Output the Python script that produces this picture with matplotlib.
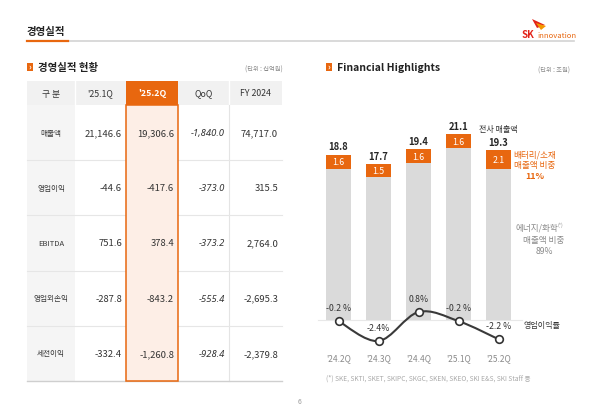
import matplotlib

matplotlib.use("Agg")
import matplotlib.pyplot as plt
import numpy as np
from matplotlib.patches import Rectangle, Polygon
from matplotlib.path import Path
from matplotlib.patches import PathPatch

plt.rcParams["font.family"] = ["Noto Sans CJK KR", "DejaVu Sans"]
plt.rcParams["axes.unicode_minus"] = False

ORANGE = "#e8670f"
DARK = "#333333"

# table data (unit: 십억원)
table_cols = ["구 분", "'25.1Q", "'25.2Q", "QoQ", "FY 2024"]
row_labels = ["매출액", "영업이익", "EBITDA", "영업외손익", "세전이익"]
q1_values = [21146.6, -44.6, 751.6, -287.8, -332.4]
q2_values = [19306.6, -417.6, 378.4, -843.2, -1260.8]
qoq_values = [-1840.0, -373.0, -373.2, -555.4, -928.4]
fy_values = [74717.0, 315.5, 2764.0, -2695.3, -2379.8]

# chart data (unit: 조원)
quarters = ["'24.2Q", "'24.3Q", "'24.4Q", "'25.1Q", "'25.2Q"]
total_sales = [18.8, 17.7, 19.4, 21.1, 19.3]
battery_sales = [1.6, 1.5, 1.6, 1.6, 2.1]
op_margin = [-0.2, -2.4, 0.8, -0.2, -2.2]
margin_labels = ["-0.2 %", "-2.4%", "0.8%", "-0.2 %", "-2.2 %"]

W, H = 600, 414
fig = plt.figure(figsize=(W / 100, H / 100), dpi=100)
canvas = fig.add_axes([0, 0, 1, 1])
canvas.set_xlim(0, W)
canvas.set_ylim(H, 0)
canvas.axis("off")

# page header
canvas.text(27, 32, "경영실적", fontsize=7.5, fontweight="bold", va="center", color="#222222")
canvas.plot([27, 574], [42, 42], color="#d3d3d3", lw=1.2)
canvas.plot([27, 68], [42, 42], color=ORANGE, lw=1.6)
canvas.add_patch(Polygon([(532, 20), (545, 26), (537, 29)], color="#e2231a", lw=0))
canvas.add_patch(Polygon([(536, 24), (546, 27), (541, 31)], color="#f39800", lw=0))
canvas.text(522, 35, "SK", color="#e2231a", fontweight="bold", fontsize=7, va="center")
canvas.text(537, 35.5, "innovation", color=ORANGE, fontsize=5.5, va="center")


def section_icon(x, y):
    canvas.add_patch(Rectangle((x, y - 4), 6, 8, color=ORANGE, lw=0))
    canvas.text(x + 3, y - 0.5, "›", color="white", fontsize=6, fontweight="bold", ha="center", va="center")


section_icon(27, 68)
canvas.text(38, 68, "경영실적 현황", fontsize=7.5, fontweight="bold", va="center", color="#222222")
canvas.text(283, 70, "(단위 : 십억원)", fontsize=4.5, color="#8a8a8a", ha="right", va="center")
section_icon(326, 68)
canvas.text(337, 68, "Financial Highlights", fontsize=7.5, fontweight="bold", va="center", color="#222222")
canvas.text(570, 71, "(단위 : 조원)", fontsize=4.5, color="#8a8a8a", ha="right", va="center")

# table
col_edges = [27, 75, 126, 178, 229, 282]
head_top, head_bot = 82, 106
row_h = 55.2
table_bot = head_bot + row_h * len(row_labels)

canvas.add_patch(Rectangle((col_edges[0], head_top), col_edges[-1] - col_edges[0], head_bot - head_top,
                           color="#f1f1f1", lw=0))
canvas.add_patch(Rectangle((col_edges[0], head_bot), col_edges[1] - col_edges[0], table_bot - head_bot,
                           color="#f5f5f5", lw=0))
canvas.add_patch(Rectangle((col_edges[2], head_top), col_edges[3] - col_edges[2], head_bot - head_top,
                           color=ORANGE, lw=0))
for xe in [col_edges[1], col_edges[4]]:
    canvas.plot([xe, xe], [head_top, head_bot], color="white", lw=1)
canvas.plot([col_edges[4], col_edges[4]], [head_bot, table_bot], color="#e4e4e4", lw=0.8)
for i in range(1, len(row_labels)):
    yy = head_bot + row_h * i
    canvas.plot([col_edges[0], col_edges[-1]], [yy, yy], color="#e6e6e6", lw=0.8)
canvas.plot([col_edges[0], col_edges[-1]], [table_bot, table_bot], color="#cfcfcf", lw=1)
canvas.add_patch(Rectangle((col_edges[2], head_bot), col_edges[3] - col_edges[2], table_bot - head_bot,
                           facecolor="#fdeee6", edgecolor=ORANGE, lw=1.1, zorder=3))

for j, name in enumerate(table_cols):
    xc = (col_edges[j] + col_edges[j + 1]) / 2
    canvas.text(xc, (head_top + head_bot) / 2, name, ha="center", va="center", fontsize=6.3,
                color="white" if j == 2 else DARK, fontweight="bold" if j == 2 else "medium", zorder=4)

columns = [q1_values, q2_values, qoq_values, fy_values]
for i, label in enumerate(row_labels):
    yc = head_bot + row_h * (i + 0.5)
    canvas.text((col_edges[0] + col_edges[1]) / 2, yc, label, ha="center", va="center",
                fontsize=5.5, color="#3a3a3a", zorder=4)
    for j, vals in enumerate(columns):
        if j == 2:
            # QoQ column is italic; the CJK family has no italic face
            canvas.text(col_edges[j + 2] - 4, yc, f"{vals[i]:,.1f}", ha="right", va="center", fontsize=6.8,
                        color=DARK, style="italic", family=["Noto Sans", "DejaVu Sans"], zorder=4)
        else:
            canvas.text(col_edges[j + 2] - 4, yc, f"{vals[i]:,.1f}", ha="right", va="center", fontsize=6.8,
                        color=DARK, zorder=4)

# bar chart
x = np.arange(len(quarters))
ax_bar = fig.add_axes([318.5 / W, (H - 321) / H, 200 / W, 202 / H])
ax_bar.set_xlim(-0.5, 4.5)
ax_bar.set_ylim(0, 202 / 8.8)
ax_bar.axis("off")
bottoms = [t - b for t, b in zip(total_sales, battery_sales)]
ax_bar.bar(x, total_sales, width=0.625, color="#dadada")
ax_bar.bar(x, battery_sales, bottom=bottoms, width=0.625, color=ORANGE)
for i in range(len(x)):
    ax_bar.text(x[i], bottoms[i] + battery_sales[i] / 2, f"{battery_sales[i]:.1f}", ha="center",
                va="center", color="white", fontsize=6.3)
    ax_bar.annotate(f"{total_sales[i]:.1f}", (x[i], total_sales[i]), xytext=(0, 2.5),
                    textcoords="offset points", ha="center", va="bottom", fontsize=6.8,
                    color="#262626", fontweight="bold")
ax_bar.annotate("전사 매출액", (x[-1], total_sales[-1]), xytext=(0, 12), textcoords="offset points",
                ha="center", va="bottom", fontsize=5.8, color=DARK, annotation_clip=False)
canvas.plot([318, 522], [321, 321], color="#e8e8e8", lw=0.8, zorder=0)

# operating margin line
ax_line = fig.add_axes([318.5 / W, (H - 356.5) / H, 200 / W, 49.8 / H])
ax_line.set_xlim(-0.5, 4.5)
ax_line.set_ylim(-4, 1.5)
ax_line.axis("off")
ax_line.patch.set_alpha(0)

pts = np.column_stack([x, op_margin]).astype(float)
ext = np.vstack([pts[0], pts, pts[-1]])
verts = [tuple(pts[0])]
codes = [Path.MOVETO]
for k in range(1, len(ext) - 2):
    p0, p1, p2, p3 = ext[k - 1], ext[k], ext[k + 1], ext[k + 2]
    verts += [tuple(p1 + (p2 - p0) / 6), tuple(p2 - (p3 - p1) / 6), tuple(p2)]
    codes += [Path.CURVE4] * 3
ax_line.add_patch(PathPatch(Path(verts, codes), facecolor="none", edgecolor="#3a3a3a", lw=1.5))
ax_line.plot(x, op_margin, "o", ms=5.5, mfc="white", mec="#333333", mew=1.2, zorder=3)
for i in range(len(x)):
    ax_line.annotate(margin_labels[i], (x[i], op_margin[i]), xytext=(0, 10), textcoords="offset points",
                     ha="center", va="center", fontsize=6.3, color=DARK, annotation_clip=False)
    ax_line.annotate(quarters[i], (x[i], 0), xycoords=("data", "axes fraction"), xytext=(0, -1.5),
                     textcoords="offset points", ha="center", va="center", fontsize=6,
                     color="#8a8a8a", annotation_clip=False)
canvas.text(524, 326, "영업이익률", fontsize=5.8, color=DARK, va="center")

# side notes
canvas.text(535, 160, "배터리/소재\n매출액 비중", ha="center", va="center", fontsize=6.2,
            color=ORANGE, linespacing=1.25, fontweight="medium")
canvas.text(535, 177, "11%", ha="center", va="center", fontsize=6.4, color=ORANGE, fontweight="bold")
canvas.text(537, 228, "에너지/화학", ha="center", va="center", fontsize=6.2, color="#8a8a8a")
canvas.text(557, 225, "(*)", ha="left", va="center", fontsize=3.5, color="#8a8a8a")
canvas.text(544, 246, "매출액 비중\n89%", ha="center", va="center", fontsize=6.2, color="#8a8a8a",
            linespacing=1.25)

canvas.text(326, 379, "(*) SKE, SKTI, SKET, SKIPC, SKGC, SKEN, SKEO, SKI E&S, SKI Staff 등",
            fontsize=4.8, color="#a8a8a8", va="center")
canvas.text(300, 402, "6", fontsize=5, color="#999999", ha="center", va="center")

fig.savefig("out.png", dpi=100)
